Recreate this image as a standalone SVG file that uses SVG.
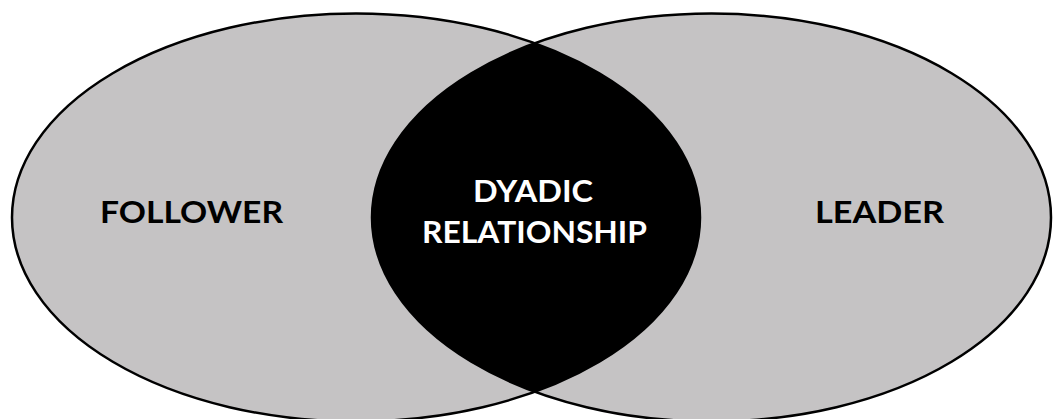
<svg xmlns="http://www.w3.org/2000/svg" width="1053" height="419" viewBox="0 0 1053 419">
<style>
.set{fill:#c5c3c4;stroke:none}
.outline{fill:none;stroke:#000;stroke-width:2.5}
.lbl{font-family:Lato,"Liberation Sans",sans-serif;font-weight:700;font-size:30px;text-anchor:middle}
</style>
<rect width="1053" height="419" fill="#fff"/>
<g id="follower">
<ellipse class="set" cx="356" cy="217.5" rx="344" ry="204"/>
</g>
<g id="leader">
<ellipse class="set" cx="711.5" cy="217.5" rx="339.5" ry="204"/>
</g>
<g id="dyadic-relationship">
<path d="M534.92 43.3 A339.5 204 0 0 0 534.92 391.7 A344 204 0 0 0 534.92 43.3 Z" fill="#000"/>
</g>
<g id="outlines">
<ellipse class="outline" cx="356" cy="217.5" rx="344" ry="204"/>
<ellipse class="outline" cx="711.5" cy="217.5" rx="339.5" ry="204"/>
</g>
<g id="labels">
<text class="lbl" x="191.5" y="223" textLength="183" lengthAdjust="spacingAndGlyphs" fill="#000">FOLLOWER</text>
<text class="lbl" x="879.5" y="223" textLength="129" lengthAdjust="spacingAndGlyphs" fill="#000">LEADER</text>
<text class="lbl" x="533" y="202" textLength="120" lengthAdjust="spacingAndGlyphs" fill="#fff">DYADIC</text>
<text class="lbl" x="534.5" y="243" textLength="225" lengthAdjust="spacingAndGlyphs" fill="#fff">RELATIONSHIP</text>
</g>
<g id="connectors"/>
</svg>
